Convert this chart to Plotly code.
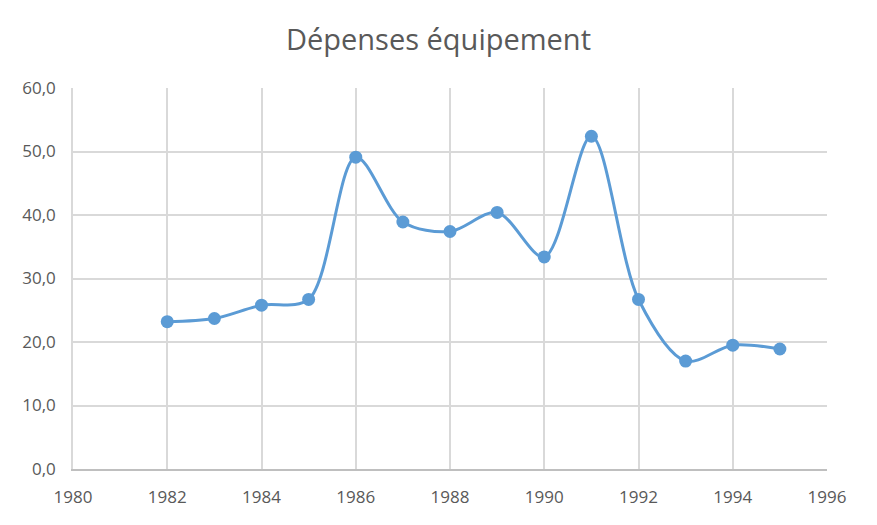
import plotly.graph_objects as go

years = [1982, 1983, 1984, 1985, 1986, 1987, 1988, 1989, 1990, 1991, 1992, 1993, 1994, 1995]
depenses = [23.2, 23.7, 25.8, 26.7, 49.1, 38.9, 37.4, 40.4, 33.4, 52.4, 26.7, 17.0, 19.5, 18.9]
title_text = "Dépenses équipement"

color = "#5B9BD5"
fig = go.Figure(go.Scatter(
    x=years, y=depenses, mode="lines+markers",
    line=dict(color=color, width=3, shape="spline", smoothing=0.9),
    marker=dict(color=color, size=13),
))

font_family = "Open Sans, Noto Sans, sans-serif"
fig.update_layout(
    width=877, height=525,
    margin=dict(l=73, r=50, t=88, b=56),
    paper_bgcolor="white", plot_bgcolor="white",
    separators=", ",
    showlegend=False,
    title=dict(text=title_text, x=0.5, xanchor="center", y=0.925, yanchor="middle",
               font=dict(family=font_family, size=29, color="#595959")),
    font=dict(family=font_family, size=17, color="#595959"),
)
fig.update_xaxes(range=[1980, 1996], dtick=2, tick0=1980, showgrid=True,
                 gridcolor="#D9D9D9", gridwidth=1.5, showline=True, linecolor="#BFBFBF",
                 linewidth=1.5, zeroline=False, ticks="", ticklabelstandoff=12,
                 tickfont=dict(size=17, color="#595959"))
fig.update_yaxes(range=[0, 60], dtick=10, tickformat=".1f", showgrid=True,
                 gridcolor="#D9D9D9", gridwidth=1.5, zeroline=False, ticks="",
                 showline=True, linecolor="#D9D9D9", linewidth=1.5,
                 ticklabelstandoff=12, tickfont=dict(size=17, color="#595959"))

fig.write_html("out.html")
